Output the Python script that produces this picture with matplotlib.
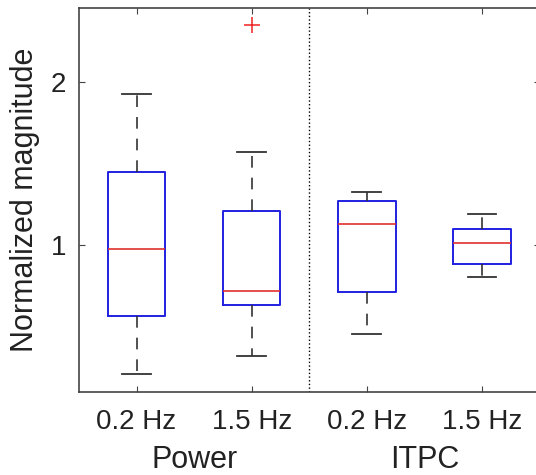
import matplotlib
matplotlib.use('Agg')
import matplotlib.pyplot as plt

# box statistics
labels = ['0.2 Hz', '1.5 Hz', '0.2 Hz', '1.5 Hz']
groups = ['Power', 'ITPC']
med = [0.977, 0.718, 1.131, 1.014]
q1 = [0.564, 0.632, 0.712, 0.883]
q3 = [1.444, 1.210, 1.266, 1.098]
whislo = [0.209, 0.321, 0.452, 0.802]
whishi = [1.926, 1.571, 1.323, 1.188]
fliers = [[], [2.348], [], []]

plt.rcParams['font.family'] = ['Liberation Sans', 'DejaVu Sans']

fig = plt.figure(figsize=(5.36, 4.75), dpi=100)
ax = fig.add_axes([79 / 536, 83 / 475, 460.5 / 536, 384 / 475])

stats = []
for i in range(len(labels)):
    stats.append(dict(med=med[i], q1=q1[i], q3=q3[i], whislo=whislo[i],
                      whishi=whishi[i], fliers=fliers[i], label=labels[i]))

ax.bxp(stats, positions=[1, 2, 3, 4], widths=0.5, capwidths=0.25,
       boxprops=dict(color='#2020e0', lw=1.4),
       medianprops=dict(color='#e03030', lw=1.2),
       whiskerprops=dict(color='#333333', lw=1.2, linestyle=(0, (7, 6))),
       capprops=dict(color='#333333', lw=1.3),
       flierprops=dict(marker='+', markeredgecolor='#ee2222', markersize=11,
                       markeredgewidth=1.1))

ax.axvline(2.5, color='k', ls=':', lw=1)

ax.set_xlim(0.5, 4.5)
ax.set_ylim(0.1, 2.45)
ax.set_yticks([1, 2])
ax.set_xticks([1, 2, 3, 4])
ax.set_xticklabels(labels)
ax.tick_params(direction='in', length=4, top=True, right=True, color='#444444',
               labelsize=20, labelcolor='#222222')
ax.tick_params(axis='x', pad=12.5)
ax.tick_params(axis='y', pad=9)
for s in ax.spines.values():
    s.set_color('#444444')
    s.set_linewidth(1.2)

ax.set_ylabel('Normalized magnitude', fontsize=22, color='#222222', labelpad=8)
for x, g in zip([1.5, 3.5], groups):
    ax.text(x, -0.176, g, fontsize=22, color='#222222', ha='center', va='center',
            transform=ax.get_xaxis_transform())

fig.savefig('out.png', dpi=100)
